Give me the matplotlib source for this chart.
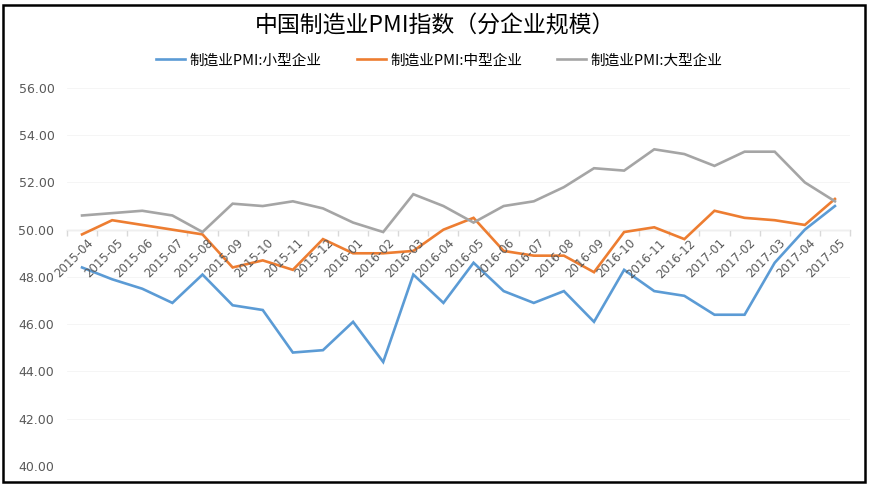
import numpy as np
import matplotlib
matplotlib.use("Agg")
import matplotlib.pyplot as plt
from matplotlib.patches import Rectangle

plt.rcParams['font.family'] = ['Noto Sans CJK SC', 'DejaVu Sans']

# ─── Data ────────────────────────────────────────────────────────
months = [
    "2015-04", "2015-05", "2015-06", "2015-07", "2015-08", "2015-09",
    "2015-10", "2015-11", "2015-12", "2016-01", "2016-02", "2016-03",
    "2016-04", "2016-05", "2016-06", "2016-07", "2016-08", "2016-09",
    "2016-10", "2016-11", "2016-12", "2017-01", "2017-02", "2017-03",
    "2017-04", "2017-05",
]
small = [48.4, 47.9, 47.5, 46.9, 48.1, 46.8, 46.6, 44.8, 44.9, 46.1, 44.4, 48.1,
         46.9, 48.6, 47.4, 46.9, 47.4, 46.1, 48.3, 47.4, 47.2, 46.4, 46.4, 48.6,
         50.0, 51.0]
medium = [49.8, 50.4, 50.2, 50.0, 49.8, 48.4, 48.7, 48.3, 49.6, 49.0, 49.0, 49.1,
          50.0, 50.5, 49.1, 48.9, 48.9, 48.2, 49.9, 50.1, 49.6, 50.8, 50.5, 50.4,
          50.2, 51.3]
large = [50.6, 50.7, 50.8, 50.6, 49.9, 51.1, 51.0, 51.2, 50.9, 50.3, 49.9, 51.5,
         51.0, 50.3, 51.0, 51.2, 51.8, 52.6, 52.5, 53.4, 53.2, 52.7, 53.3, 53.3,
         52.0, 51.2]
series_names = ["制造业PMI:小型企业", "制造业PMI:中型企业", "制造业PMI:大型企业"]
y_ticks = [40, 42, 44, 46, 48, 50, 52, 54, 56]

# ─── Styling ─────────────────────────────────────────────────────
COLORS = ["#5B9BD5", "#ED7D31", "#A5A5A5"]
TEXT_GRAY = "#595959"
AXIS_GRAY = "#D9D9D9"

fig = plt.figure(figsize=(8.7, 4.91), dpi=100)
ax = fig.add_axes([0.077, 0.051, 0.900, 0.770])

x = np.arange(len(months))
for vals, name, col in zip([small, medium, large], series_names, COLORS):
    ax.plot(x, vals, color=col, lw=1.9, label=name, solid_joinstyle="miter")

ax.set_xlim(-0.5, len(months) - 0.5)
ax.set_ylim(40, 56)
ax.set_yticks(y_ticks)
ax.set_yticklabels([f"{v:.2f}" for v in y_ticks], fontsize=9, color=TEXT_GRAY,
                   family="DejaVu Sans")
ax.tick_params(axis="y", length=0, pad=9)

for s in ["left", "right", "top"]:
    ax.spines[s].set_visible(False)
ax.spines["bottom"].set_position(("data", 50))
ax.spines["bottom"].set_color(AXIS_GRAY)
ax.spines["bottom"].set_linewidth(1.0)
ax.spines["bottom"].set_zorder(0)

# category labels hang off the 50 line, rotated
ax.set_xticks(x)
ax.set_xticklabels([])
ax.tick_params(axis="x", which="major", length=0)
ax.set_xticks(np.arange(len(months) + 1) - 0.5, minor=True)
ax.tick_params(axis="x", which="minor", length=4, color=AXIS_GRAY, width=1)
for i, m in enumerate(months):
    ax.annotate(m, (i, 50), xytext=(3, -5), textcoords="offset points",
                rotation=45, rotation_mode="anchor", ha="right", va="top",
                fontsize=8.5, color=TEXT_GRAY, family="DejaVu Sans")

ax.grid(axis="y", color="#F4F4F4", lw=0.6)
ax.set_axisbelow(True)

fig.text(0.5, 0.947, "中国制造业PMI指数（分企业规模）", ha="center", va="center",
         fontsize=16.5, color="#000000")
fig.legend(loc="center", bbox_to_anchor=(0.505, 0.877), ncol=3, frameon=False,
           prop={"size": 10.5, "weight": "medium"}, handlelength=2.0,
           columnspacing=2.4, handletextpad=0.3)

fig.patches.append(Rectangle((0.004, 0.018), 0.99, 0.972, transform=fig.transFigure,
                             fill=False, edgecolor="black", lw=1.8))

fig.savefig("out.png", dpi=100)
